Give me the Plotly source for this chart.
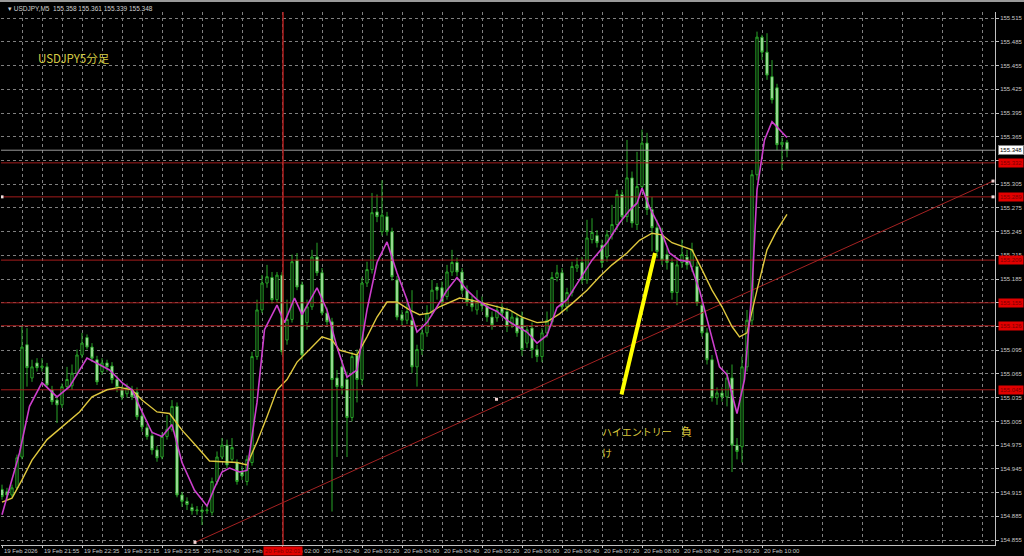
import plotly.graph_objects as go

# ---------------- data ----------------
bars = list(range(158))

opens = [154.919,154.916,154.912,154.921,154.960,155.102,155.060,155.079,155.073,155.074,
155.045,155.032,155.026,155.049,155.050,155.066,155.089,155.111,155.099,155.083,
155.068,155.079,155.075,155.058,155.045,155.040,155.045,155.042,155.012,154.997,
154.987,154.969,154.960,154.986,154.995,155.024,154.912,154.904,154.896,154.892,
154.893,154.892,154.890,154.929,154.960,154.975,154.957,154.953,154.941,154.929,
154.953,155.087,155.146,155.180,155.187,155.159,155.190,155.108,155.134,155.209,
155.178,155.130,155.150,155.213,155.193,155.142,155.131,155.060,155.074,155.058,
155.010,155.089,155.058,155.180,155.197,155.270,155.245,155.264,155.245,155.184,
155.140,155.133,155.133,155.074,155.096,155.117,155.142,155.175,155.174,155.163,
155.194,155.206,155.194,155.171,155.159,155.146,155.155,155.151,155.137,155.136,
155.149,155.144,155.128,155.136,155.136,155.104,155.123,155.096,155.087,155.117,
155.131,155.187,155.193,155.150,155.168,155.199,155.206,155.184,155.235,155.240,
155.228,155.213,155.241,155.254,155.292,155.264,155.313,155.254,155.302,155.357,
155.273,155.250,155.241,155.216,155.206,155.168,155.206,155.213,155.201,155.201,
155.152,155.117,155.083,155.035,155.041,155.036,155.060,154.975,154.973,155.074,
155.133,155.317,155.491,155.472,155.441,155.427,155.355,155.358]

highs = [154.925,154.921,154.925,154.963,155.125,155.123,155.083,155.085,155.085,155.079,
155.050,155.037,155.053,155.074,155.077,155.096,155.117,155.115,155.104,155.088,
155.085,155.083,155.080,155.063,155.050,155.053,155.050,155.048,155.017,155.002,
154.993,154.974,154.991,155.013,155.032,155.029,154.916,154.909,154.901,154.898,
154.898,154.898,154.934,154.967,154.984,154.982,154.984,154.957,154.949,154.962,
155.093,155.159,155.190,155.203,155.194,155.194,155.194,155.159,155.216,155.218,
155.182,155.159,155.222,155.231,155.199,155.149,155.136,155.070,155.083,155.068,
155.093,155.096,155.187,155.207,155.294,155.292,155.310,155.270,155.250,155.189,
155.146,155.159,155.171,155.102,155.127,155.152,155.184,155.180,155.182,155.203,
155.222,155.212,155.199,155.177,155.164,155.171,155.163,155.156,155.144,155.152,
155.155,155.149,155.144,155.141,155.144,155.127,155.130,155.102,155.123,155.144,
155.194,155.203,155.199,155.174,155.207,155.212,155.213,155.260,155.262,155.247,
155.235,155.247,155.279,155.298,155.298,155.361,155.321,155.346,155.374,155.370,
155.289,155.260,155.250,155.225,155.212,155.212,155.235,155.222,155.231,155.207,
155.159,155.123,155.089,155.048,155.048,155.070,155.077,154.984,155.087,155.146,
155.323,155.498,155.494,155.496,155.462,155.432,155.364,155.361]

lows = [154.906,154.906,154.909,154.919,154.957,155.049,155.055,155.068,155.068,155.048,
155.026,155.003,155.022,155.045,155.045,155.063,155.085,155.096,155.080,155.051,
155.064,155.068,155.053,155.042,155.032,155.035,155.032,155.007,154.992,154.982,
154.963,154.954,154.957,154.982,154.992,154.909,154.897,154.893,154.887,154.887,
154.874,154.888,154.886,154.925,154.957,154.946,154.953,154.925,154.931,154.924,
154.949,155.083,155.142,155.174,155.154,155.155,155.089,155.102,155.130,155.171,
155.083,155.121,155.146,155.189,155.139,155.126,154.891,154.960,155.039,154.960,
155.005,155.029,155.051,155.175,155.192,155.257,155.240,155.240,155.183,155.133,
155.126,155.128,155.066,155.049,155.089,155.112,155.139,155.159,155.150,155.159,
155.189,155.189,155.166,155.151,155.144,155.140,155.144,155.131,155.121,155.131,
155.136,155.118,155.123,155.112,155.088,155.098,155.085,155.080,155.080,155.111,
155.125,155.182,155.144,155.144,155.163,155.194,155.179,155.179,155.230,155.225,
155.199,155.207,155.235,155.247,155.257,155.257,155.250,155.247,155.298,155.266,
155.220,155.212,155.203,155.197,155.159,155.152,155.199,155.197,155.194,155.151,
155.112,155.077,155.030,155.026,155.030,155.024,154.941,154.957,154.953,155.068,
155.127,155.310,155.462,155.437,155.407,155.348,155.323,155.339]

closes = [154.910,154.912,154.921,154.959,155.099,155.073,155.074,155.073,155.075,155.051,
155.030,155.026,155.049,155.058,155.066,155.089,155.104,155.099,155.085,155.055,
155.079,155.074,155.058,155.048,155.036,155.048,155.036,155.011,154.998,154.986,
154.969,154.959,154.986,154.995,155.024,154.912,154.904,154.900,154.892,154.893,
154.891,154.893,154.929,154.960,154.975,154.950,154.972,154.929,154.936,154.957,
155.087,155.146,155.180,155.188,155.159,155.190,155.093,155.134,155.207,155.175,
155.089,155.150,155.213,155.193,155.142,155.131,155.058,155.049,155.048,155.010,
155.087,155.058,155.180,155.197,155.269,155.264,155.266,155.245,155.188,155.137,
155.133,155.144,155.074,155.096,155.117,155.142,155.171,155.171,155.155,155.194,
155.206,155.194,155.171,155.156,155.150,155.156,155.151,155.137,155.127,155.146,
155.142,155.125,155.137,155.117,155.096,155.121,155.096,155.087,155.117,155.133,
155.187,155.193,155.150,155.168,155.201,155.203,155.184,155.237,155.244,155.231,
155.206,155.241,155.254,155.292,155.264,155.313,155.256,155.302,155.357,155.273,
155.250,155.220,155.209,155.206,155.168,155.203,155.216,155.203,155.222,155.155,
155.117,155.083,155.035,155.041,155.036,155.060,154.975,154.967,155.074,155.133,
155.317,155.491,155.472,155.443,155.412,155.355,155.358,155.348]

# fast moving average (magenta)
ma_fast_x = [0,3.5,5.5,8,11,13.5,17,19.5,21.5,24,26,27.5,30,32,34,36,38.5,41,42.5,44,45.5,47.5,49,
             51,52.5,55,56.5,58.5,60,63,65,67,69,71,73,75,77,79,81,83,85,87,89,91,93,95,97,99,101,
             103,105,107,109,111,113,115.5,118,121,123.5,125.5,127,128,129.5,131.5,133.5,135.5,
             137.5,139.5,141.5,143.5,145,147,148.5,150,151,152.5,154,157]
ma_fast_y = [154.887,154.965,155.024,155.054,155.036,155.049,155.085,155.077,155.070,155.054,155.045,
             155.024,154.991,154.986,155.001,154.953,154.918,154.898,154.921,154.941,154.946,154.941,
             154.943,155.029,155.121,155.152,155.130,155.161,155.140,155.174,155.146,155.099,155.061,
             155.070,155.146,155.206,155.232,155.193,155.159,155.118,155.130,155.150,155.171,155.187,
             155.171,155.159,155.150,155.144,155.133,155.125,155.118,155.104,155.114,155.149,155.159,
             155.184,155.209,155.231,155.256,155.272,155.281,155.300,155.276,155.251,155.218,155.209,
             155.207,155.171,155.123,155.074,155.064,155.015,155.058,155.171,155.298,155.361,155.384,
             155.364]

# slow moving average (yellow)
ma_slow_x = [0,2,4,6,9,12,15.5,18,21,23.5,26,28,31,33.5,36,39,41.5,44,47,49,51,53,55,57,59,62,64,66,
             67.5,71,73,75,77,79,81.5,83.5,85.5,87.5,89.5,91.5,93.5,96,99,101.5,104,107,109,111.5,
             114,117,119.5,122,125,127.5,130,132,134,136,138,140,142,144,146,147.5,149,151,153,155,157]
ma_slow_y = [154.903,154.908,154.931,154.956,154.982,154.998,155.017,155.036,155.045,155.048,155.045,
             155.032,155.017,155.015,154.994,154.973,154.955,154.954,154.953,154.950,154.979,155.011,
             155.045,155.058,155.080,155.099,155.112,155.108,155.095,155.089,155.112,155.137,155.156,
             155.156,155.146,155.140,155.142,155.150,155.156,155.161,155.159,155.155,155.150,155.146,
             155.137,155.130,155.131,155.141,155.154,155.171,155.188,155.203,155.218,155.234,155.243,
             155.241,155.231,155.226,155.222,155.197,155.171,155.150,155.125,155.112,155.117,155.171,
             155.222,155.247,155.267]

# horizontal levels (red), trend line and the drawn yellow line
levels = [155.332, 155.289, 155.209, 155.155, 155.126, 155.045]
level_labels = ["155.332", "155.289", "155.209", "155.155", "155.126", "155.045"]
trend_x = [38.6, 98.9, 198.2]
trend_y = [154.852, 155.033, 155.309]
entry_x = [123.9, 130.6]
entry_y = [155.039, 155.218]
cross_bar = 56.2
last_price = 155.348

tick_bars = list(range(0, 153, 8))
tick_labels = ["19 Feb 2026", "19 Feb 21:55", "19 Feb 22:35", "19 Feb 23:15", "19 Feb 23:55",
               "20 Feb 00:40", "20 Feb 01:20", "20 Feb 02:00", "20 Feb 02:40", "20 Feb 03:20",
               "20 Feb 04:00", "20 Feb 04:40", "20 Feb 05:20", "20 Feb 06:00", "20 Feb 06:40",
               "20 Feb 07:20", "20 Feb 08:00", "20 Feb 08:40", "20 Feb 09:20", "20 Feb 10:00"]
price_ticks = [round(154.855 + 0.03 * k, 3) for k in range(23)]

# ---------------- figure ----------------
X0, X1 = -0.2, 198.6
Y0, Y1 = 154.8487, 155.5228
W, H = 1024, 556
ML, MR, MT, MB = 1, 29, 12, 11

def pxx(px):
    return (px - ML) / (W - ML - MR)

def pxy(py):
    return (H - MB - py) / (H - MT - MB)

fig = go.Figure()

LVL = "#a51c1c"
for lv in levels:
    fig.add_trace(go.Scatter(x=[X0, X1], y=[lv, lv], mode="lines",
                             line=dict(color=LVL, width=1), hoverinfo="skip"))

fig.add_trace(go.Scatter(x=[X0, X1], y=[last_price, last_price], mode="lines",
                         line=dict(color="#9a9a9a", width=1), hoverinfo="skip"))

fig.add_trace(go.Scatter(x=[trend_x[0], trend_x[-1]], y=[trend_y[0], trend_y[-1]], mode="lines",
                         line=dict(color="#a52222", width=1), hoverinfo="skip"))
fig.add_trace(go.Scatter(x=trend_x, y=trend_y, mode="markers",
                         marker=dict(color="#f0d0d0", size=3, symbol="square"), hoverinfo="skip"))
fig.add_trace(go.Scatter(x=[0.0, 198.2], y=[levels[1], levels[1]], mode="markers",
                         marker=dict(color="#f0e0e0", size=3, symbol="square"), hoverinfo="skip"))

fig.add_trace(go.Candlestick(
    x=bars, open=opens, high=highs, low=lows, close=closes,
    increasing=dict(line=dict(color="#28a428", width=1), fillcolor="#000000"),
    decreasing=dict(line=dict(color="#28a428", width=1), fillcolor="#d4f7cc"),
    whiskerwidth=0, hoverinfo="skip"))

fig.add_trace(go.Scatter(x=ma_slow_x, y=ma_slow_y, mode="lines",
                         line=dict(color="#e0c83e", width=1.4), hoverinfo="skip"))
fig.add_trace(go.Scatter(x=ma_fast_x, y=ma_fast_y, mode="lines",
                         line=dict(color="#cc3fcc", width=1.6), hoverinfo="skip"))

fig.add_trace(go.Scatter(x=entry_x, y=entry_y, mode="lines",
                         line=dict(color="#ffff00", width=4), hoverinfo="skip"))

# crosshair vertical line
fig.add_shape(type="line", xref="x", yref="paper", x0=cross_bar, x1=cross_bar, y0=0, y1=1,
              line=dict(color="#b01e1e", width=1.5))
# window top frame
fig.add_shape(type="line", xref="paper", yref="paper", x0=pxx(0), x1=pxx(W), y0=pxy(1), y1=pxy(1),
              line=dict(color="#9a9a9a", width=2))

ann = []
ann.append(dict(xref="paper", yref="paper", x=pxx(6), y=pxy(8), xanchor="left", yanchor="middle",
                text="\u25BE USDJPY,M5  155.358 155.361 155.339 155.348", showarrow=False,
                font=dict(family="Liberation Sans, Arial", size=6.5, color="#d0d0d0")))
ann.append(dict(xref="paper", yref="paper", x=pxx(36), y=pxy(58), xanchor="left", yanchor="middle",
                text="USDJPY5分足", showarrow=False,
                font=dict(family="Noto Sans CJK JP", size=11.5, color="#d6cc44")))
ann.append(dict(xref="paper", yref="paper", x=pxx(600), y=pxy(431), xanchor="left", yanchor="middle",
                text="ハイエントリー", showarrow=False,
                font=dict(family="Noto Sans CJK JP", size=10, color="#dcc83c")))
ann.append(dict(xref="paper", yref="paper", x=pxx(679), y=pxy(431), xanchor="left", yanchor="middle",
                text="負", showarrow=False,
                font=dict(family="Noto Sans CJK JP", size=11, color="#dcc83c")))
ann.append(dict(xref="paper", yref="paper", x=pxx(600), y=pxy(452), xanchor="left", yanchor="middle",
                text="け", showarrow=False,
                font=dict(family="Noto Sans CJK JP", size=10, color="#dcc83c")))

# x-axis time labels, left-aligned at their ticks like the terminal does
for tb, tl in zip(tick_bars, tick_labels):
    ann.append(dict(xref="x", yref="paper", x=tb, y=pxy(550.5), xanchor="left", yanchor="middle",
                    xshift=0, text=tl, showarrow=False,
                    font=dict(family="Liberation Sans, Arial", size=6, color="#c8c8c8")))

for lv, lab in zip(levels, level_labels):
    ann.append(dict(xref="paper", yref="y", x=1, y=lv, xanchor="left", yanchor="middle", xshift=3,
                    text=lab, showarrow=False, bgcolor="#e20000", borderpad=1,
                    font=dict(family="Liberation Sans, Arial", size=6, color="#7a0000")))
ann.append(dict(xref="paper", yref="y", x=1, y=last_price, xanchor="left", yanchor="middle", xshift=3,
                text=f"{last_price:.3f}", showarrow=False, bgcolor="#ffffff", borderpad=1,
                bordercolor="#808080", borderwidth=1,
                font=dict(family="Liberation Sans, Arial", size=6, color="#000000")))
ann.append(dict(xref="x", yref="paper", x=cross_bar, y=pxy(550.5), xanchor="center", yanchor="middle",
                text="20 Feb 02:01", showarrow=False, bgcolor="#e20000", borderpad=1,
                font=dict(family="Liberation Sans, Arial", size=6, color="#7a0000")))

GRID = "#808080"
fig.update_layout(
    width=W, height=H, margin=dict(l=ML, r=MR, t=MT, b=MB, autoexpand=False),
    paper_bgcolor="#000000", plot_bgcolor="#000000",
    showlegend=False, boxgap=0.35,
    annotations=ann,
    xaxis=dict(range=[X0, X1], rangeslider=dict(visible=False), tickmode="array",
               tickvals=tick_bars, ticktext=tick_labels, showticklabels=False,
               ticks="outside", ticklen=2, tickcolor="#c0c0c0", automargin=False,
               showgrid=True, gridcolor=GRID, griddash="dot", gridwidth=1,
               minor=dict(tickmode="array", tickvals=list(range(4, 199, 8)), showgrid=True,
                          gridcolor=GRID, griddash="dot", gridwidth=1, ticks=""),
               showline=True, linecolor="#c0c0c0", linewidth=1, zeroline=False, fixedrange=True),
    yaxis=dict(range=[Y0, Y1], side="right", tickmode="array", tickvals=price_ticks,
               ticktext=[f"{p:.3f}" for p in price_ticks], automargin=False,
               ticks="outside", ticklen=3, tickcolor="#c0c0c0",
               tickfont=dict(family="Liberation Sans, Arial", size=6, color="#c8c8c8"),
               showgrid=True, gridcolor=GRID, griddash="dot", gridwidth=1,
               showline=True, linecolor="#c0c0c0", linewidth=1, zeroline=False, fixedrange=True),
)

fig.write_html("out.html", config={"displayModeBar": False},
               post_script="document.body.style.margin='0';document.body.style.background='#000';")
